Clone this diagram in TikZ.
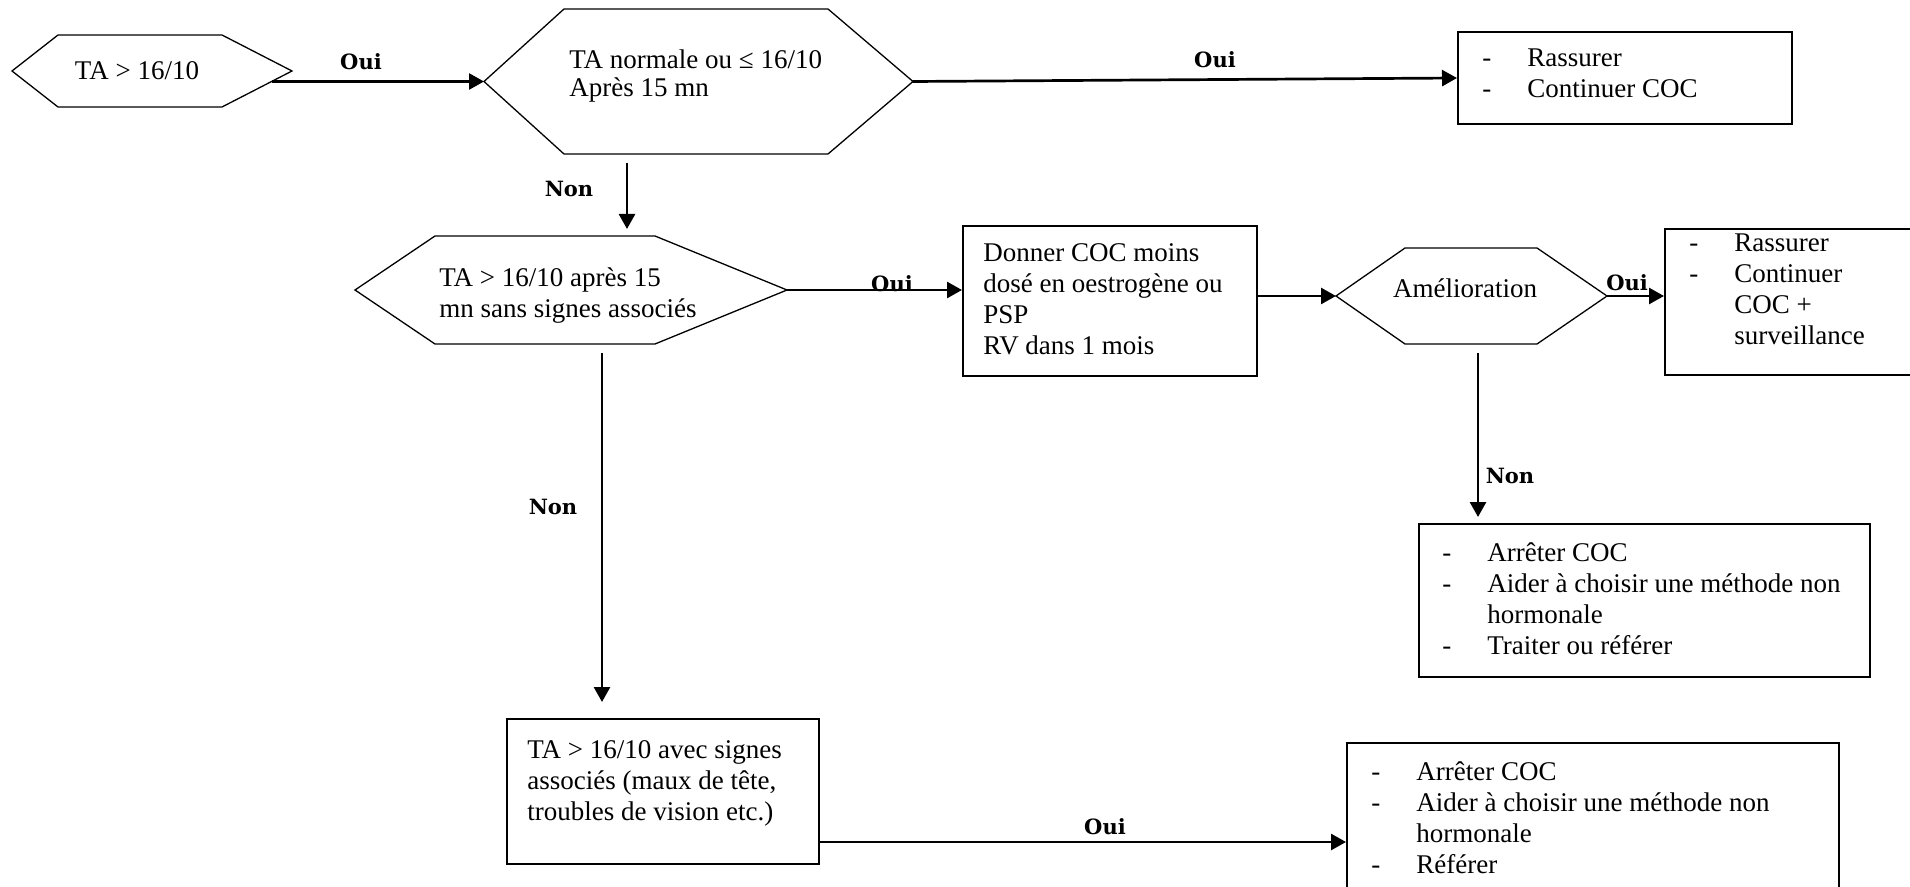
\documentclass[tikz,border=0pt]{standalone}
\usepackage{fontspec}
\setmainfont{Liberation Serif}
\newfontfamily\labelfont{DejaVu Serif}
\usetikzlibrary{arrows.meta,fit}

% hexagon: name, left tip x, top-left x, top-right x, right tip x, top y, bottom y
\newcommand\hexdecision[7]{%
  \coordinate (#1-L)  at (#2,{(#6+#7)/2});
  \coordinate (#1-TL) at (#3,#6);
  \coordinate (#1-TR) at (#4,#6);
  \coordinate (#1-R)  at (#5,{(#6+#7)/2});
  \coordinate (#1-BR) at (#4,#7);
  \coordinate (#1-BL) at (#3,#7);
  \draw[hexline] (#1-L) -- (#1-TL) -- (#1-TR) -- (#1-R) -- (#1-BR) -- (#1-BL) -- cycle;
}
% rectangular box from its corners
\newcommand\actionbox[5]{%
  \coordinate (#1-nw) at (#2,#3);
  \coordinate (#1-se) at (#4,#5);
  \node[frame, fit=(#1-nw)(#1-se)] (#1) {};
}
\newcommand\itm{\makebox[22.5pt][l]{-}}

\tikzset{
  frame/.style={draw, line width=1pt, inner sep=0pt},
  hexline/.style={line width=0.65pt, line join=miter},
  flow/.style={line width=1.35pt, -{Triangle[length=7.5pt,width=8pt]}},
  txt/.style={inner sep=0pt, anchor=north west, align=left,
              font=\fontsize{13.5}{15.4}\selectfont},
  ctxt/.style={inner sep=0pt, font=\fontsize{13.5}{15.4}\selectfont},
  lbl/.style={inner sep=0pt, font=\labelfont\bfseries\fontsize{10.5}{13}\selectfont},
}

\begin{document}
\begin{tikzpicture}[x=0.5pt,y=-0.5pt]
\useasboundingbox (0,0) rectangle (1910,887);
\clip (0,0) rectangle (1910,887);

% decisions
\hexdecision{h1}{12}{58}{222}{292}{35}{107}
\hexdecision{h2}{484}{564}{828}{913}{9}{154}
\hexdecision{h3}{355}{435}{655}{787}{236}{344}
\hexdecision{h4}{1336}{1405}{1537}{1607}{248}{344}

\node[ctxt] (h1t) at (137,71) {TA > 16/10};
\node[txt, font=\fontsize{13.5}{14}\selectfont] (h2t) at (569,49) {\strut TA normale ou ≤ 16/10\\Après 15 mn};
\node[txt] (h3t) at (439,265) {\strut TA > 16/10 après 15\\mn sans signes associés};
\node[ctxt] (h4t) at (1465,288) {Amélioration};

% actions
\actionbox{b1}{1458}{32}{1792}{124}
\actionbox{b2}{963}{226}{1257}{376}
\actionbox{b3}{1665}{229}{1990}{375}
\actionbox{b4}{1419}{524}{1870}{677}
\actionbox{b5}{507}{719}{819}{864}
\actionbox{b6}{1347}{743}{1839}{920}

\node[txt] (b1t) at (1482,45) {\strut\itm Rassurer\\\itm Continuer COC};
\node[txt] (b2t) at (983,240) {\strut Donner COC moins\\dosé en oestrogène ou\\PSP\\RV dans 1 mois};
\node[txt] (b3t) at (1689,230) {\strut\itm Rassurer\\\itm Continuer\\\hspace*{22.5pt}COC +\\\hspace*{22.5pt}surveillance};
\node[txt] (b4t) at (1442,540) {\strut\itm Arrêter COC\\\itm Aider à choisir une méthode non\\\hspace*{22.5pt}hormonale\\\itm Traiter ou référer};
\node[txt] (b5t) at (527,737) {\strut TA > 16/10 avec signes\\associés (maux de tête,\\troubles de vision etc.)};
\node[txt] (b6t) at (1371,759) {\strut\itm Arrêter COC\\\itm Aider à choisir une méthode non\\\hspace*{22.5pt}hormonale\\\itm Référer};

% branch labels
\node[lbl] (o1) at (361,62) {Oui};
\node[lbl] (o2) at (1215,60) {Oui};
\node[lbl] (n1) at (569,189) {Non};
\node[lbl] (o3) at (892,284) {Oui};
\node[lbl] (o4) at (1627,283) {Oui};
\node[lbl] (n2) at (1510,476) {Non};
\node[lbl] (n3) at (553,507) {Non};
\node[lbl] (o5) at (1105,827) {Oui};

% connector end points
\coordinate (h1a) at (272,81.5);
\coordinate (h2d) at (627,163);
\coordinate (h3d) at (602,353);
\coordinate (h4d) at (1478,353);
\coordinate (b5o) at (819,842);

% connectors
\draw[flow] (h1a) -- (h2-L);
\draw[flow] (h2-R) -- (b1.west);
\draw[flow, shorten >=3.5pt] (h2d) -- (h2d |- h3-TL);
\draw[flow] (h3-R) -- (h3-R -| b2.west);
\draw[flow] (h4-L -| b2.east) -- (h4-L);
\draw[flow] (h4-R) -- (h4-R -| b3.west);
\draw[flow, shorten >=3pt] (h4d) -- (h4d |- b4.north);
\draw[flow, shorten >=8pt] (h3d) -- (h3d |- b5.north);
\draw[flow] (b5o) -- (b5o -| b6.west);
\end{tikzpicture}
\end{document}
